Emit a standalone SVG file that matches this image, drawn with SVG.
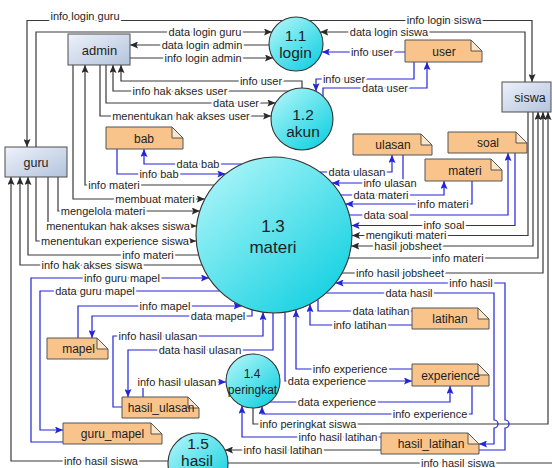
<svg xmlns="http://www.w3.org/2000/svg" width="552" height="468" viewBox="0 0 552 468">
<defs>
  <linearGradient id="entFill" x1="0" y1="0" x2="1" y2="1">
    <stop offset="0" stop-color="#eef2fa"/>
    <stop offset="1" stop-color="#b3c3dd"/>
  </linearGradient>
  <linearGradient id="procFill" x1="0.15" y1="0.1" x2="0.85" y2="0.9">
    <stop offset="0" stop-color="#a3f3f7"/>
    <stop offset="1" stop-color="#19d2e2"/>
  </linearGradient>
  <marker id="ak" viewBox="0 0 8 7" refX="8" refY="3.5" markerWidth="8" markerHeight="7" markerUnits="userSpaceOnUse" orient="auto">
    <path d="M0,0 L8,3.5 L0,7 L1.5,3.5 z" fill="#2a2a2a"/>
  </marker>
  <marker id="ab" viewBox="0 0 8 7" refX="8" refY="3.5" markerWidth="8" markerHeight="7" markerUnits="userSpaceOnUse" orient="auto">
    <path d="M0,0 L8,3.5 L0,7 L1.5,3.5 z" fill="#2424d8"/>
  </marker>
</defs>
<style>
  .ent rect { fill: url(#entFill); stroke: #4d4d4d; stroke-width: 1; }
  .proc circle { fill: url(#procFill); stroke: #333; stroke-width: 1.1; }
  .store .body { fill: #f8c48b; stroke: #555; stroke-width: 1; }
  .store .fold { fill: #fde6c8; stroke: #555; stroke-width: 1; stroke-linejoin: round; }
  .ent text, .proc text, .store text { font-family: "Liberation Sans", Arial, sans-serif; fill: #1e1e1e; text-anchor: middle; }
  .ent text { font-size: 13px; }
  .store text { font-size: 12px; }
  .proc .big { font-size: 17px; }
  .proc .mid { font-size: 15.5px; }
  .proc .small { font-size: 12px; }
  .k { fill: none; stroke: #3a3a3a; stroke-width: 1.2; }
  .b { fill: none; stroke: #2424d8; stroke-width: 1.2; }
  .k.a { marker-end: url(#ak); }
  .b.a { marker-end: url(#ab); }
  .lbl { font-family: "Liberation Sans", Arial, sans-serif; font-size: 11px; fill: #1e1e1e; text-anchor: middle;
         stroke: #fff; stroke-width: 4; stroke-linejoin: round; paint-order: stroke; }
</style>
<rect x="0" y="0" width="552" height="468" fill="#fff"/>

<g id="connectors">
  <!-- flows of the login process -->
  <path class="k a" d="M282.7,20.5 H27 V147"/>
  <path class="k a" d="M36,147 V32 H272"/>
  <path class="k a" d="M269,45 H130"/>
  <path class="k a" d="M130,58 H273"/>
  <path class="k a" d="M309.3,20.5 H532 V82"/>
  <path class="k a" d="M525,82 V32 H320.2"/>
  <path class="b a" d="M405,52 H321.8"/>

  <!-- flows of the account process -->
  <path class="b a" d="M414,62 V79 H316 V91.3"/>
  <path class="b a" d="M323,96.2 V88 H427 V62"/>
  <path class="k a" d="M302,88 V81 H121 V65"/>
  <path class="k a" d="M288.7,91 H113 V65"/>
  <path class="k a" d="M106,65 V103 H275.4"/>
  <path class="k a" d="M100,65 V116 H271.1"/>

  <!-- admin / guru flows into materi -->
  <path class="k a" d="M73,65 V199 H204.8"/>
  <path class="k a" d="M214,185 H85 V65"/>
  <path class="k a" d="M58,177 V211 H199.8"/>
  <path class="k a" d="M48,177 V226 H196.5"/>
  <path class="k a" d="M36,177 V241 H196.2"/>
  <path class="k a" d="M198.6,255 H28 V177"/>
  <path class="k a" d="M202,265 H20 V177"/>
  <path class="k a" d="M168,461 H11 V177"/>

  <!-- stores around materi -->
  <path class="b a" d="M241.7,164 H144 V149"/>
  <path class="b a" d="M117,149 V174 H225.4"/>
  <path class="b a" d="M320,172 H392 V155"/>
  <path class="b a" d="M403,155 V183 H332"/>
  <path class="b a" d="M341,195 H444 V181"/>
  <path class="b a" d="M472,181 V204 H345.6"/>
  <path class="b a" d="M349.4,215 H508 V153"/>
  <path class="b a" d="M515,153 V225.5 H351.5"/>

  <!-- siswa flows -->
  <path class="k a" d="M528,112 V235.5 H352"/>
  <path class="k a" d="M533,112 V246 H351.2"/>
  <path class="k a" d="M348.5,258 H538 V112"/>
  <path class="k a" d="M342,273 H543 V112"/>
  <path class="k a" d="M253,408 V424 H548 V112"/>

  <!-- hasil / latihan / experience -->
  <path class="b a" d="M479,450 H505 V428 A4,4 0 0 0 505,420 V283 H335.5"/>
  <path class="b a" d="M326.2,293 H494 V420 A4,4 0 0 1 494,428 V444 H479"/>
  <path class="b" d="M318,299.4 V311 H412"/>
  <path class="b a" d="M412,325 H310 V304.2"/>
  <path class="b a" d="M412,369 H296 V309.8"/>
  <path class="b a" d="M285,312.2 V381 H412"/>
  <path class="b a" d="M270,402 H450 V386"/>
  <path class="b a" d="M472,386 V414 H262 V406.5"/>
  <path class="b a" d="M381,437 H242 V405.7"/>
  <path class="k a" d="M381,450 H225"/>
  <path class="k" d="M228,463 H552"/>

  <!-- mapel / guru_mapel / hasil_ulasan -->
  <path class="b a" d="M63,442 H31 V278 H209"/>
  <path class="b a" d="M219.7,291 H40 V430 H63"/>
  <path class="b a" d="M78,338 V306 H241.7"/>
  <path class="b a" d="M252,309.8 V316 H92 V338"/>
  <path class="b a" d="M122,407 H113 V336 H263 V312.2"/>
  <path class="b a" d="M273,313 V350 H128 V397"/>
  <path class="b a" d="M143,397 V382 H226"/>

  <!-- flow labels -->
  <text class="lbl" x="85" y="20">info login guru</text>
  <text class="lbl" x="205" y="35.5">data login guru</text>
  <text class="lbl" x="202" y="48.5">data login admin</text>
  <text class="lbl" x="203" y="61.5">info login admin</text>
  <text class="lbl" x="444" y="24">info login siswa</text>
  <text class="lbl" x="389" y="35.5">data login siswa</text>
  <text class="lbl" x="372" y="55.5">info user</text>
  <text class="lbl" x="344" y="82.5">info user</text>
  <text class="lbl" x="385" y="91.5">data user</text>
  <text class="lbl" x="261" y="84.5">info user</text>
  <text class="lbl" x="180" y="94.5">info hak akses user</text>
  <text class="lbl" x="236" y="106.5">data user</text>
  <text class="lbl" x="181" y="119.5">menentukan hak akses user</text>
  <text class="lbl" x="155" y="202.5">membuat materi</text>
  <text class="lbl" x="114" y="188.5">info materi</text>
  <text class="lbl" x="103" y="214.5">mengelola materi</text>
  <text class="lbl" x="118" y="229.5">menentukan hak akses siswa</text>
  <text class="lbl" x="115" y="244.5">menentukan experience siswa</text>
  <text class="lbl" x="148" y="258.5">info materi</text>
  <text class="lbl" x="92" y="268.5">info hak akses siswa</text>
  <text class="lbl" x="101" y="464.5">info hasil siswa</text>
  <text class="lbl" x="198" y="167.5">data bab</text>
  <text class="lbl" x="159" y="177.5">info bab</text>
  <text class="lbl" x="357" y="175.5">data ulasan</text>
  <text class="lbl" x="390" y="186.5">info ulasan</text>
  <text class="lbl" x="381" y="198.5">data materi</text>
  <text class="lbl" x="443" y="207.5">info materi</text>
  <text class="lbl" x="386" y="218.5">data soal</text>
  <text class="lbl" x="444" y="229">info soal</text>
  <text class="lbl" x="406" y="239">mengikuti materi</text>
  <text class="lbl" x="408" y="249.5">hasil jobsheet</text>
  <text class="lbl" x="458" y="261.5">info materi</text>
  <text class="lbl" x="400" y="276.5">info hasil jobsheet</text>
  <text class="lbl" x="471" y="286.5">info hasil</text>
  <text class="lbl" x="409" y="296.5">data hasil</text>
  <text class="lbl" x="381" y="314.5">data latihan</text>
  <text class="lbl" x="360" y="328.5">info latihan</text>
  <text class="lbl" x="350" y="372.5">info experience</text>
  <text class="lbl" x="327" y="384.5">data experience</text>
  <text class="lbl" x="337" y="405.5">data experience</text>
  <text class="lbl" x="430" y="417.5">info experience</text>
  <text class="lbl" x="308" y="427.5">info peringkat siswa</text>
  <text class="lbl" x="338" y="440.5">info hasil latihan</text>
  <text class="lbl" x="283" y="453.5">info hasil latihan</text>
  <text class="lbl" x="458" y="466.5">info hasil siswa</text>
  <text class="lbl" x="122" y="281.5">info guru mapel</text>
  <text class="lbl" x="95" y="294.5">data guru mapel</text>
  <text class="lbl" x="165" y="309.5">info mapel</text>
  <text class="lbl" x="218" y="319.5">data mapel</text>
  <text class="lbl" x="158" y="339.5">info hasil ulasan</text>
  <text class="lbl" x="200" y="353.5">data hasil ulasan</text>
  <text class="lbl" x="177" y="385.5">info hasil ulasan</text>
</g>

<!-- external entities -->
<g id="admin" class="ent">
  <rect x="68" y="34" width="62" height="31"/>
  <text x="99.5" y="54.5">admin</text>
</g>
<g id="guru" class="ent">
  <rect x="5" y="147" width="62" height="30"/>
  <text x="36" y="166.5" style="font-size:12.5px">guru</text>
</g>
<g id="siswa" class="ent">
  <rect x="502" y="82" width="49" height="30"/>
  <text x="530" y="101.5" style="font-size:12.5px">siswa</text>
</g>

<!-- processes -->
<g id="p1_1" class="proc">
  <circle cx="296" cy="44" r="27"/>
  <text class="mid" x="295.5" y="41">1.1</text>
  <text class="mid" x="295.5" y="58">login</text>
</g>
<g id="p1_2" class="proc">
  <circle cx="302" cy="119" r="31"/>
  <text class="mid" x="303" y="120">1.2</text>
  <text class="mid" x="303" y="137">akun</text>
</g>
<g id="p1_3" class="proc">
  <circle cx="274" cy="235" r="78"/>
  <text class="big" x="273" y="232">1.3</text>
  <text class="big" x="273" y="253">materi</text>
</g>
<g id="p1_4" class="proc">
  <circle cx="253" cy="381" r="27"/>
  <text class="small" x="252" y="378">1.4</text>
  <text class="small" x="252.5" y="394">peringkat</text>
</g>
<g id="p1_5" class="proc">
  <circle cx="198" cy="463" r="30"/>
  <text class="mid" x="198" y="448.5">1.5</text>
  <text class="mid" x="197" y="465.5">hasil</text>
</g>

<!-- data stores -->
<g id="s_user" class="store">
  <path class="body" d="M405,40 H471 L482,51 V62 H405 Z"/>
  <path class="fold" d="M471,40 L471,51 L482,51 Z"/>
  <text x="444" y="55.5">user</text>
</g>
<g id="s_bab" class="store">
  <path class="body" d="M106,127 H172 L183,138 V149 H106 Z"/>
  <path class="fold" d="M172,127 L172,138 L183,138 Z"/>
  <text x="144" y="142.5">bab</text>
</g>
<g id="s_ulasan" class="store">
  <path class="body" d="M353,134 H421 L432,145 V155 H353 Z"/>
  <path class="fold" d="M421,134 L421,145 L432,145 Z"/>
  <text x="393" y="148.5">ulasan</text>
</g>
<g id="s_soal" class="store">
  <path class="body" d="M448,132 H516 L527,143 V153 H448 Z"/>
  <path class="fold" d="M516,132 L516,143 L527,143 Z"/>
  <text x="488" y="147">soal</text>
</g>
<g id="s_materi" class="store">
  <path class="body" d="M425,159 H491 L502,170 V181 H425 Z"/>
  <path class="fold" d="M491,159 L491,170 L502,170 Z"/>
  <text x="465" y="174.5">materi</text>
</g>
<g id="s_latihan" class="store">
  <path class="body" d="M412,308 H478 L489,319 V329 H412 Z"/>
  <path class="fold" d="M478,308 L478,319 L489,319 Z"/>
  <text x="450" y="323">latihan</text>
</g>
<g id="s_experience" class="store">
  <path class="body" d="M412,364 H478 L489,375 V386 H412 Z"/>
  <path class="fold" d="M478,364 L478,375 L489,375 Z"/>
  <text x="450.5" y="379.5">experience</text>
</g>
<g id="s_hasil_latihan" class="store">
  <path class="body" d="M381,433 H468 L479,444 V454 H381 Z"/>
  <path class="fold" d="M468,433 L468,444 L479,444 Z"/>
  <text x="431" y="448">hasil_latihan</text>
</g>
<g id="s_mapel" class="store">
  <path class="body" d="M47,338 H97 L108,349 V359 H47 Z"/>
  <path class="fold" d="M97,338 L97,349 L108,349 Z"/>
  <text x="78.5" y="353">mapel</text>
</g>
<g id="s_hasil_ulasan" class="store">
  <path class="body" d="M122,397 H188 L199,408 V418 H122 Z"/>
  <path class="fold" d="M188,397 L188,408 L199,408 Z"/>
  <text x="161" y="412">hasil_ulasan</text>
</g>
<g id="s_guru_mapel" class="store">
  <path class="body" d="M63,423 H151 L162,434 V444 H63 Z"/>
  <path class="fold" d="M151,423 L151,434 L162,434 Z"/>
  <text x="112.5" y="438">guru_mapel</text>
</g>
</svg>
